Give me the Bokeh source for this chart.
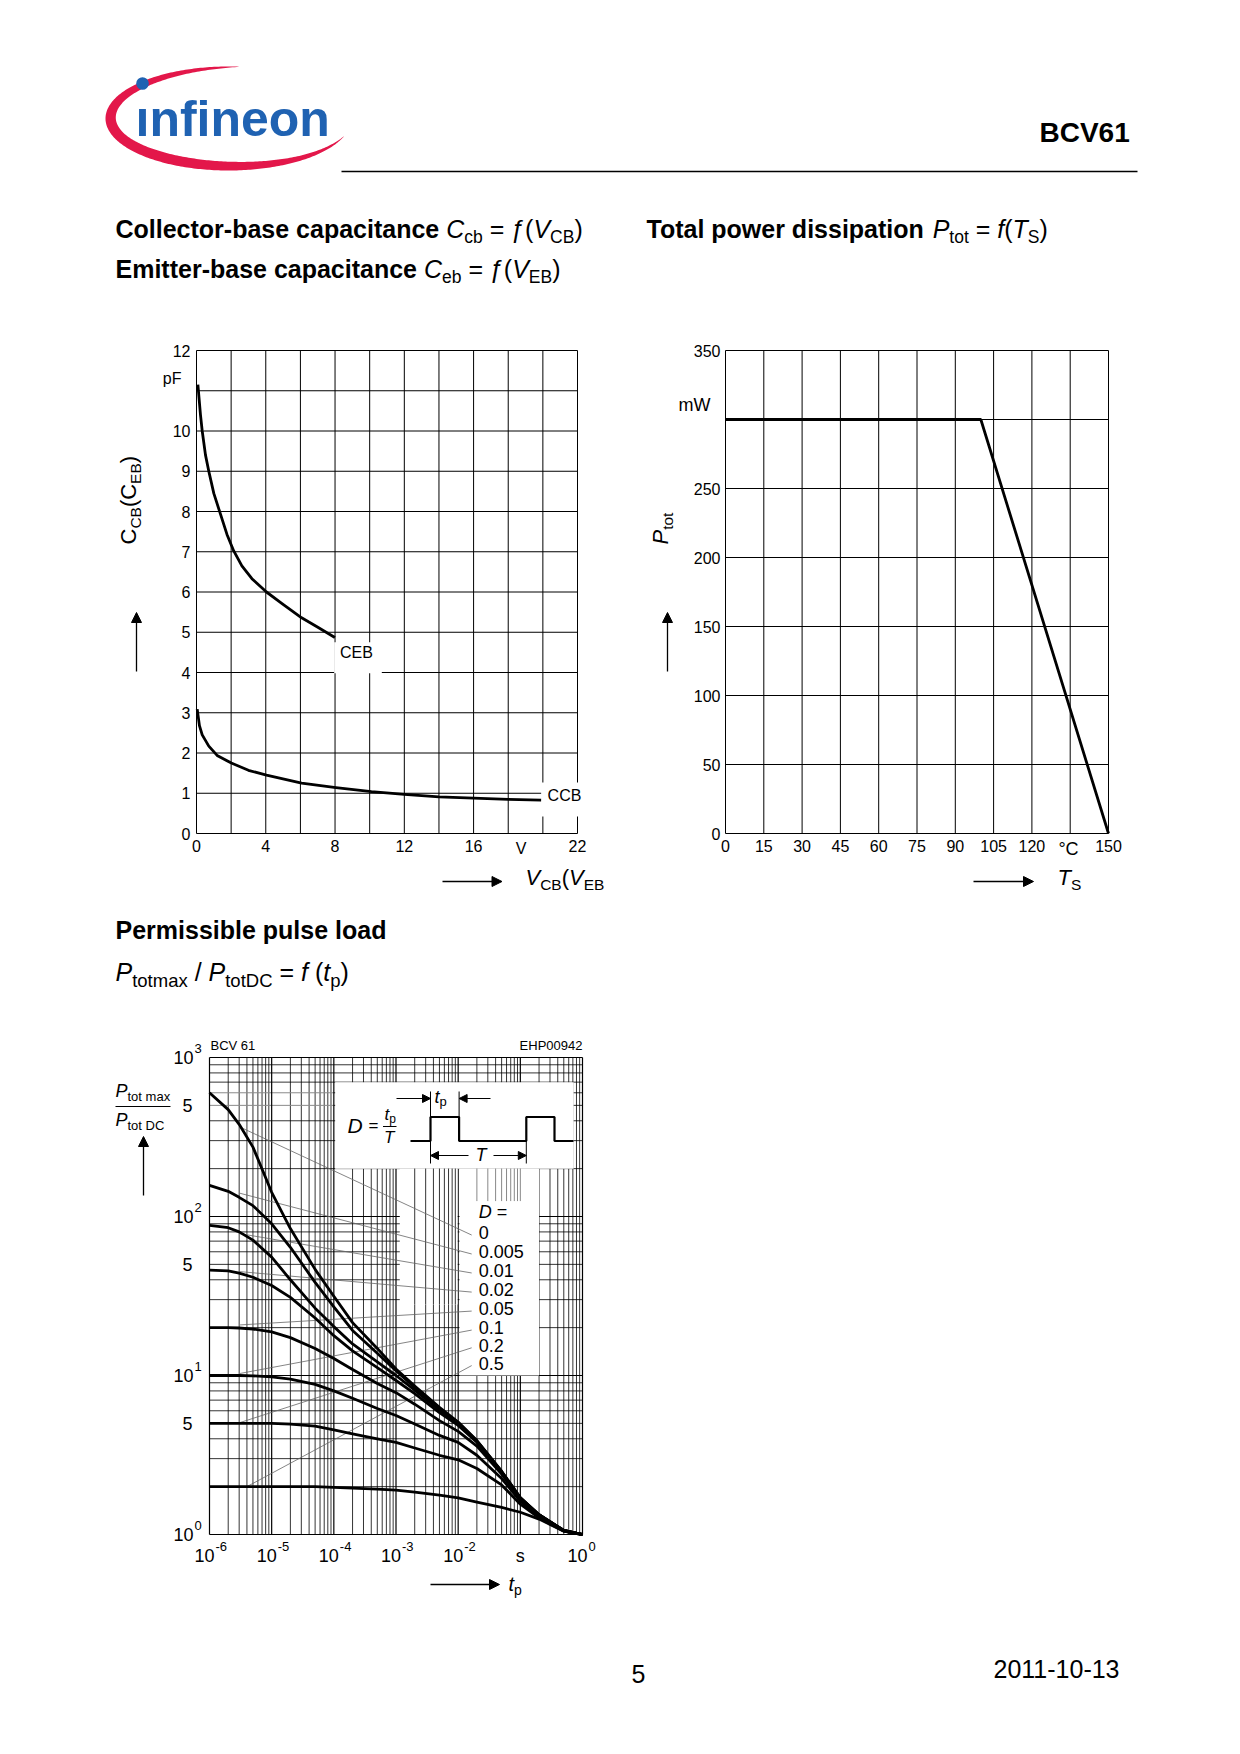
import math
import numpy as np
from bokeh.plotting import figure
from bokeh.layouts import column, row
from bokeh.models import Range1d, Arrow, NormalHead
from bokeh.core.properties import value
from bokeh.embed import file_html
from bokeh.resources import INLINE

FONT = "Liberation Sans"
RED = "#E3174A"
BLUE = "#1F62B2"
MID = 0.35  # distance (in em) from alphabetic baseline to the 'middle' anchor

# ---------------- data ----------------
# Chart 1: capacitance vs. voltage
ceb_v = [0.08, 0.23, 0.33, 0.52, 0.71, 1.0, 1.38, 1.76, 2.15, 2.62, 3.2, 4.04, 4.92, 6.07, 7.03, 7.99]
ceb_c = [11.15, 10.4, 10.0, 9.4, 9.0, 8.45, 7.94, 7.43, 7.02, 6.65, 6.33, 6.0, 5.72, 5.36, 5.12, 4.87]
ccb_v = [0.04, 0.17, 0.33, 0.71, 1.19, 2.01, 3.0, 4.04, 6.07, 8.05, 10.1, 12.0, 14.0, 16.0, 18.0, 19.9]
ccb_c = [3.09, 2.68, 2.45, 2.17, 1.94, 1.75, 1.57, 1.45, 1.25, 1.14, 1.04, 0.97, 0.91, 0.88, 0.85, 0.83]
c1_grid_x = list(range(0, 23, 2))
c1_grid_y = list(range(0, 13))
c1_xticks = [0, 4, 8, 12, 16, 22]
c1_yticks = [0, 1, 2, 3, 4, 5, 6, 7, 8, 9, 10, 12]

# Chart 2: total power dissipation
ts_c = [0, 100, 150]
ptot_mw = [300, 300, 0]
c2_grid_x = list(range(0, 151, 15))
c2_grid_y = list(range(0, 351, 50))
c2_xticks = [0, 15, 30, 45, 60, 75, 90, 105, 120, 150]
c2_yticks = [0, 50, 100, 150, 200, 250, 350]

# Chart 3: permissible pulse load
tp_s = [1e-6, 2e-6, 3e-6, 5e-6, 1e-5, 2e-5, 5e-5, 1e-4, 2e-4, 5e-4,
        1e-3, 2e-3, 5e-3, 1e-2, 2e-2, 5e-2, 0.1, 0.2, 0.5, 1.0]
r_d0 = [600, 470, 380, 273, 142, 84, 46.5, 31.5, 21.5, 14.8, 11.0, 8.6, 6.3, 5.1, 3.9, 2.5, 1.7, 1.33, 1.06, 1.0]
r_d0005 = [157, 144, 132, 117, 90, 64, 38.5, 27, 19.2, 13.8, 10.7, 8.4, 6.2, 5.05, 3.88, 2.49, 1.7, 1.33, 1.06, 1.0]
r_d001 = [88, 85, 80, 71, 55.5, 40, 26.5, 20.3, 15.8, 12.2, 10.0, 8.1, 6.05, 4.95, 3.85, 2.48, 1.7, 1.33, 1.06, 1.0]
r_d002 = [46, 45.5, 44, 41.5, 36.8, 31, 23, 17.8, 14.3, 11.2, 9.3, 7.7, 5.85, 4.85, 3.8, 2.46, 1.69, 1.33, 1.06, 1.0]
r_d005 = [20, 20, 19.9, 19.6, 18.8, 17.3, 14.8, 12.8, 10.9, 8.9, 7.8, 6.6, 5.2, 4.45, 3.6, 2.4, 1.67, 1.32, 1.06, 1.0]
r_d01 = [10, 10, 10, 9.95, 9.8, 9.5, 8.8, 8.0, 7.2, 6.2, 5.6, 4.95, 4.2, 3.8, 3.15, 2.25, 1.62, 1.3, 1.05, 1.0]
r_d02 = [5, 5, 5, 5, 5, 4.95, 4.8, 4.55, 4.3, 4.0, 3.8, 3.5, 3.15, 2.95, 2.6, 2.05, 1.55, 1.27, 1.05, 1.0]
r_d05 = [2, 2, 2, 2, 2, 2, 2, 1.98, 1.96, 1.93, 1.9, 1.85, 1.77, 1.7, 1.6, 1.48, 1.38, 1.25, 1.05, 1.0]
duty_names = ["0", "0.005", "0.01", "0.02", "0.05", "0.1", "0.2", "0.5"]
duty_curves = [r_d0, r_d0005, r_d001, r_d002, r_d005, r_d01, r_d02, r_d05]
duty_label_y = [78.8, 59.9, 45.5, 34.5, 26.2, 19.9, 15.4, 11.9]
leader_end = [(3.1e-6, 365), (3.1e-6, 140), (3.1e-6, 78), (3.1e-6, 45), (3.1e-6, 20.8),
              (3.1e-6, 10.3), (3.1e-6, 5.06), (4e-6, 2.0)]
x_decades = [1e-6, 1e-5, 1e-4, 1e-3, 1e-2, 1e-1, 1.0]
x_exp = ["-6", "-5", "-4", "-3", "-2", None, "0"]
y_decades = [1.0, 10.0, 100.0, 1000.0]
y_exp = ["0", "1", "2", "3"]
y_fives = [5.0, 50.0, 500.0]

# ---------------- text metrics (Arial-compatible) ----------------
_REG = dict(zip(" ()-/=.,°ƒ", [278, 333, 333, 333, 278, 584, 278, 278, 400, 556]))
_REG.update({d: 556 for d in "0123456789"})
_REG.update(dict(A=667, B=667, C=722, D=722, E=667, F=611, H=722, P=667, S=667, T=611, V=667, W=944, M=833))
_REG.update(dict(a=556, b=556, c=500, d=556, e=556, f=278, i=222, l=222, m=833, n=556, o=556,
                 p=556, r=333, s=500, t=278, u=556, x=500, y=500))
_BOLD = dict(zip(" ()-/=.", [278, 333, 333, 333, 278, 584, 278]))
_BOLD.update({d: 556 for d in "0123456789"})
_BOLD.update(dict(A=722, B=722, C=722, D=722, E=667, P=667, T=611, V=667))
_BOLD.update(dict(a=556, b=611, c=556, d=611, e=556, i=278, l=278, m=889, n=611, o=611,
                  p=611, r=389, s=556, t=333, u=611, w=778))


def tw(s, size, bold=False):
    tab = _BOLD if bold else _REG
    return sum(tab.get(ch, 556) for ch in s) * size / 1000.0


def text_at(p, x, y, s, size, style="normal", color="black", align="left",
            baseline="middle", angle=0.0, x_offset=0):
    p.text(x=[x], y=[y], text=[s], angle=angle, x_offset=x_offset, text_font=value(FONT),
           text_font_size=value(f"{size}px"), text_font_style=value(style), text_color=color,
           text_align=align, text_baseline=baseline)


# ---------------- decoration figures (page pixel coords) ----------------
def deco(width, height, top):
    p = figure(width=width, height=height, x_range=Range1d(0, width),
               y_range=Range1d(top + height, top), x_axis_location=None, y_axis_location=None,
               toolbar_location=None, output_backend="svg", min_border=0,
               outline_line_color=None)
    p.grid.visible = False
    return p


def dtext(p, x, y_base, s, size, style="normal", color="black", align="left"):
    # y_base is the alphabetic baseline in page pixels
    text_at(p, x, y_base - MID * size, s, size, style, color, align)


def prich(p, x, y, pieces):
    for s, size, style, drop in pieces:
        bold = style == "bold"
        lead = s[: len(s) - len(s.lstrip(" "))]
        core = s.strip(" ")
        if core:
            dtext(p, x + tw(lead, size, bold), y + drop, core, size, style)
        x += tw(s, size, bold)


# header
hdr = deco(1240, 300, 0)
phi = np.radians(np.linspace(85, 340, 240))
u = (phi - phi[0]) / (phi[-1] - phi[0])
th = 11.0 * np.sin(np.pi * u) ** 0.8
cx, cy, ea, eb = 228.0, 118.0, 123.0, 52.0
ox, oy = cx + ea * np.cos(phi), cy - eb * np.sin(phi)
ix, iy = cx + (ea - th) * np.cos(phi), cy - (eb - th) * np.sin(phi)
hdr.patch(np.concatenate([ox, ix[::-1]]), np.concatenate([oy, iy[::-1]]),
          fill_color=RED, line_color=None)
dtext(hdr, 135, 136, "ınfineon", 50, "bold", BLUE)
hdr.circle(x=[142], y=[83], radius=6.3, fill_color=BLUE, line_color=None)
dtext(hdr, 1039, 142, "BCV61", 28, "bold")
hdr.line([341, 1137], [171, 171], line_width=1.5, line_color="black")
SUB = 17.5
prich(hdr, 115, 237, [("Collector-base capacitance ", 25, "bold", 0), ("C", 25, "italic", 0),
                      ("cb", SUB, "normal", 6), (" = ", 25, "normal", 0), ("ƒ", 25, "normal", 0),
                      ("(", 25, "normal", 0), ("V", 25, "italic", 0), ("CB", SUB, "normal", 6),
                      (")", 25, "normal", 0)])
prich(hdr, 115, 277, [("Emitter-base capacitance ", 25, "bold", 0), ("C", 25, "italic", 0),
                      ("eb", SUB, "normal", 6), (" = ", 25, "normal", 0), ("ƒ", 25, "normal", 0),
                      ("(", 25, "normal", 0), ("V", 25, "italic", 0), ("EB", SUB, "normal", 6),
                      (")", 25, "normal", 0)])
prich(hdr, 646, 237, [("Total power dissipation ", 25, "bold", 0), ("P", 25, "italic", 0),
                      ("tot", SUB, "normal", 6), (" = ", 25, "normal", 0), ("f", 25, "italic", 0),
                      ("(", 25, "normal", 0), ("T", 25, "italic", 0), ("S", SUB, "normal", 6),
                      (")", 25, "normal", 0)])

# pulse-load title
ttl = deco(1240, 100, 900)
prich(ttl, 115, 938, [("Permissible pulse load", 25, "bold", 0)])
prich(ttl, 115, 980, [("P", 25, "italic", 0), ("totmax", 18.5, "normal", 6), (" / ", 25, "normal", 0),
                      ("P", 25, "italic", 0), ("totDC", 18.5, "normal", 6), (" = ", 25, "normal", 0),
                      ("f", 25, "italic", 0), (" (", 25, "normal", 0), ("t", 25, "italic", 0),
                      ("p", 18.5, "normal", 6), (")", 25, "normal", 0)])

# footer
ftr = deco(1240, 120, 1620)
dtext(ftr, 631, 1682, "5", 25)
dtext(ftr, 993, 1677, "2011-10-13", 25)


# ---------------- chart helpers ----------------
def chart_fig(width, height, xr, yr, log=False):
    kw = dict(x_axis_type="log", y_axis_type="log") if log else {}
    p = figure(width=width, height=height, x_range=Range1d(*xr), y_range=Range1d(*yr),
               x_axis_location=None, y_axis_location=None, toolbar_location=None,
               output_backend="svg", min_border=0, outline_line_color=None, **kw)
    p.grid.visible = False
    return p


def ctext(p, conv, px, py, s, size, style="normal", align="left", baseline="middle", angle=0.0):
    x, y = conv(px, py)
    text_at(p, x, y, s, size, style, align=align, baseline=baseline, angle=angle)


def crich(p, conv, px, py, pieces, angle=0.0):
    # px, py: alphabetic baseline start in page pixels
    ax, ay = math.cos(angle), -math.sin(angle)      # advance direction
    dx, dy = math.sin(angle), math.cos(angle)       # 'down' direction
    for s, size, style, drop in pieces:
        off = drop - MID * size
        ctext(p, conv, px + dx * off, py + dy * off, s, size, style, angle=angle)
        w = tw(s, size, style == "bold")
        px += ax * w
        py += ay * w


def arrow(p, conv, x0, y0, x1, y1, size=10, lw=1.3, head=True):
    xs, ys = conv(x0, y0)
    xe, ye = conv(x1, y1)
    end = NormalHead(size=size, fill_color="black", line_color="black", line_width=1) if head else None
    p.add_layout(Arrow(end=end, x_start=xs, y_start=ys, x_end=xe, y_end=ye,
                       line_width=lw, line_color="black"))


def grid_lines(p, gx, gy, xlo, xhi, ylo, yhi, color="black", width=1.0):
    p.segment(x0=gx, y0=[ylo] * len(gx), x1=gx, y1=[yhi] * len(gx), line_color=color, line_width=width)
    p.segment(x0=[xlo] * len(gy), y0=gy, x1=[xhi] * len(gy), y1=gy, line_color=color, line_width=width)


# ---------------- chart 1 ----------------
def conv1(px, py):
    return ((px - 196) / 381 * 22, (833 - py) / 483 * 12)


c1 = chart_fig(640, 600, (conv1(0, 0)[0], conv1(640, 0)[0]), (conv1(0, 900)[1], conv1(0, 300)[1]))
grid_lines(c1, c1_grid_x, c1_grid_y, 0, 22, 0, 12)
c1.quad(left=[7.95], right=[10.7], bottom=[3.98], top=[4.75], fill_color="white", line_color=None)
c1.quad(left=[19.9], right=[22.7], bottom=[0.42], top=[1.27], fill_color="white", line_color=None)
c1.line(ceb_v, ceb_c, line_width=2.8, line_color="black", line_join="round")
c1.line(ccb_v, ccb_c, line_width=2.8, line_color="black", line_join="round")
y_lab1 = conv1(0, 839)[1]
c1.text(x=c1_xticks, y=[y_lab1] * len(c1_xticks), text=[str(t) for t in c1_xticks],
        text_font=value(FONT), text_font_size=value("16px"), text_align="center", text_baseline="top")
x_lab1 = conv1(190, 0)[0]
c1.text(x=[x_lab1] * len(c1_yticks), y=c1_yticks, text=[str(t) for t in c1_yticks],
        text_font=value(FONT), text_font_size=value("16px"), text_align="right", text_baseline="middle")
ctext(c1, conv1, 356, 652, "CEB", 16, align="center")
ctext(c1, conv1, 564, 795, "CCB", 16, align="center")
ctext(c1, conv1, 181, 378, "pF", 16, align="right")
ctext(c1, conv1, 520.5, 839, "V", 16, align="center", baseline="top")
crich(c1, conv1, 136, 544, [("C", 22, "normal", 0), ("CB", 15.5, "normal", 4), ("(C", 22, "normal", 0),
                            ("EB", 15.5, "normal", 4), (")", 22, "normal", 0)], angle=math.pi / 2)
arrow(c1, conv1, 136, 671, 136, 612)
crich(c1, conv1, 525, 885, [("V", 22, "italic", 0), ("CB", 15.5, "normal", 4), ("(", 22, "normal", 0),
                            ("V", 22, "italic", 0), ("EB", 15.5, "normal", 4)])
arrow(c1, conv1, 442, 881, 501.5, 881)


# ---------------- chart 2 ----------------
def conv2(px, py):
    return ((px - 725) / 383 * 150, (833 - py) / 483 * 350)


c2 = chart_fig(600, 600, (conv2(640, 0)[0], conv2(1240, 0)[0]), (conv2(0, 900)[1], conv2(0, 300)[1]))
grid_lines(c2, c2_grid_x, c2_grid_y, 0, 150, 0, 350)
c2.line(ts_c, ptot_mw, line_width=2.8, line_color="black")
y_lab2 = conv2(0, 839)[1]
c2.text(x=c2_xticks, y=[y_lab2] * len(c2_xticks), text=[str(t) for t in c2_xticks],
        text_font=value(FONT), text_font_size=value("16px"), text_align="center", text_baseline="top")
x_lab2 = conv2(720, 0)[0]
c2.text(x=[x_lab2] * len(c2_yticks), y=c2_yticks, text=[str(t) for t in c2_yticks],
        text_font=value(FONT), text_font_size=value("16px"), text_align="right", text_baseline="middle")
ctext(c2, conv2, 710, 404, "mW", 18, align="right")
ctext(c2, conv2, 1068, 838, "°C", 18, align="center", baseline="top")
crich(c2, conv2, 668, 544, [("P", 22, "italic", 0), ("tot", 15.5, "normal", 4)], angle=math.pi / 2)
arrow(c2, conv2, 667, 671, 667, 612)
crich(c2, conv2, 1057, 885, [("T", 22, "italic", 0), ("S", 15.5, "normal", 4)])
arrow(c2, conv2, 973, 881, 1033, 881)


# ---------------- chart 3 ----------------
def conv3(px, py):
    return (10 ** (-6 + (px - 209) / 373 * 6), 10 ** (3 - (py - 1057) / 477 * 3))


def xpx3(x):
    return 209 + (math.log10(x) + 6) / 6 * 373


def ypx3(y):
    return 1057 + (3 - math.log10(y)) / 3 * 477


c3 = chart_fig(640, 620, (conv3(0, 0)[0], conv3(640, 0)[0]), (conv3(0, 1620)[1], conv3(0, 1000)[1]), log=True)
x_minor = [k * 10.0 ** e for e in range(-6, 0) for k in range(2, 10)]
y_minor = [k * 10.0 ** e for e in range(0, 3) for k in range(2, 10)]
y_minor_black = [v for v in y_minor if v not in (500.0, 600.0)]
grid_lines(c3, x_minor, y_minor_black, 1e-6, 1.0, 1.0, 1000.0, width=0.8)
grey_rows = [500.0, 600.0]
c3.segment(x0=[1e-6] * 2, y0=grey_rows, x1=[1e-4] * 2, y1=grey_rows, line_color="#8a8a8a", line_width=1.0)
c3.segment(x0=[1e-4] * 2, y0=grey_rows, x1=[1.0] * 2, y1=grey_rows, line_color="black", line_width=0.8)
grid_lines(c3, x_decades, y_decades, 1e-6, 1.0, 1.0, 1000.0, width=1.2)

# masked regions of the grid
c3.quad(left=[1.05e-4, 0.0105, 0.0105, 1.15e-3], right=[0.72, 0.2, 0.2, 0.0098],
        bottom=[200, 10, 125, 28], top=[700, 125, 200, 200], fill_color="white", line_color=None)
vx_mid = [k * 1e-3 for k in range(2, 10)]
c3.segment(x0=vx_mid, y0=[28] * len(vx_mid), x1=vx_mid, y1=[200] * len(vx_mid),
           line_color="black", line_width=0.8)
vx_grey = [k * 1e-2 for k in range(2, 11)]
c3.segment(x0=vx_grey, y0=[125] * len(vx_grey), x1=vx_grey, y1=[200] * len(vx_grey),
           line_color="#888888", line_width=1.0)

# leader lines
c3.segment(x0=[0.0165] * 8, y0=[v * 0.97 for v in duty_label_y],
           x1=[e[0] for e in leader_end], y1=[e[1] for e in leader_end],
           line_color="#666666", line_width=0.8)

for curve in duty_curves:
    c3.line(tp_s, curve, line_width=2.8, line_color="black", line_join="round")

# duty-cycle labels
c3.text(x=[0.0215] * 8, y=duty_label_y, text=duty_names, text_font=value(FONT),
        text_font_size=value("18px"), text_color="black", text_baseline="middle", text_align="left")
dpx, dpy = xpx3(0.0215), ypx3(107)
ctext(c3, conv3, dpx, dpy, "D", 18, "italic")
ctext(c3, conv3, dpx + 18, dpy, "=", 18)

# inset: D = tp / T and pulse train
hi, lo = 1116.5, 1140.5
pulse_px = [410, 430, 430, 458.6, 458.6, 525.8, 525.8, 554, 554, 573]
pulse_py = [lo, lo, hi, hi, lo, lo, hi, hi, lo, lo]
pts = [conv3(a, b) for a, b in zip(pulse_px, pulse_py)]
c3.line([q[0] for q in pts], [q[1] for q in pts], line_width=2.2, line_color="black")
for (ax0, ay0, ax1, ay1) in [(430, 1091, 430, hi), (458.6, 1091, 458.6, hi),
                             (430, lo, 430, 1163), (525.8, lo, 525.8, 1163), (382.5, 1126, 396, 1126)]:
    s0, s1 = conv3(ax0, ay0), conv3(ax1, ay1)
    c3.segment(x0=[s0[0]], y0=[s0[1]], x1=[s1[0]], y1=[s1[1]], line_color="black", line_width=1)
arrow(c3, conv3, 396, 1098, 430, 1098, size=8, lw=1)
arrow(c3, conv3, 490, 1098, 458.6, 1098, size=8, lw=1)
arrow(c3, conv3, 468, 1155, 430, 1155, size=8, lw=1)
arrow(c3, conv3, 493, 1155, 525.8, 1155, size=8, lw=1)
crich(c3, conv3, 434, 1103, [("t", 18, "italic", 0), ("p", 13, "normal", 3)])
crich(c3, conv3, 475, 1161, [("T", 18, "italic", 0)])
crich(c3, conv3, 347, 1132, [("D", 21, "italic", 0)])
crich(c3, conv3, 368, 1131, [("=", 17, "normal", 0)])
crich(c3, conv3, 384, 1120, [("t", 17, "italic", 0), ("p", 12, "normal", 3)])
crich(c3, conv3, 383.5, 1143, [("T", 17, "italic", 0)])

# tick labels
for v, e in zip(y_decades, y_exp):
    ctext(c3, conv3, 193, ypx3(v), "10", 18, align="right")
    ctext(c3, conv3, 194, ypx3(v) - 9, e, 13, align="left")
for v in y_fives:
    ctext(c3, conv3, 192, ypx3(v), "5", 18, align="right")
for v, e in zip(x_decades, x_exp):
    if e is None:
        ctext(c3, conv3, xpx3(v), 1555, "s", 18, align="center")
        continue
    ctext(c3, conv3, xpx3(v) + 5, 1555, "10", 18, align="right")
    ctext(c3, conv3, xpx3(v) + 6, 1546, e, 13, align="left")

crich(c3, conv3, 210, 1050, [("BCV 61", 13, "normal", 0)])
ctext(c3, conv3, 582, 1050 - MID * 13, "EHP00942", 13, align="right")
crich(c3, conv3, 115, 1097, [("P", 18, "italic", 0), ("tot max", 13, "normal", 4)])
arrow(c3, conv3, 115, 1106, 170, 1106, head=False, lw=1)
crich(c3, conv3, 115, 1126, [("P", 18, "italic", 0), ("tot DC", 13, "normal", 4)])
arrow(c3, conv3, 143, 1195, 143, 1136)
crich(c3, conv3, 508, 1590, [("t", 20, "italic", 0), ("p", 14, "normal", 4)])
arrow(c3, conv3, 430, 1584, 499, 1584)

layout = column(hdr, row(c1, c2), ttl, c3, ftr)
open("out.html", "w").write(file_html(layout, INLINE, "BCV61"))
